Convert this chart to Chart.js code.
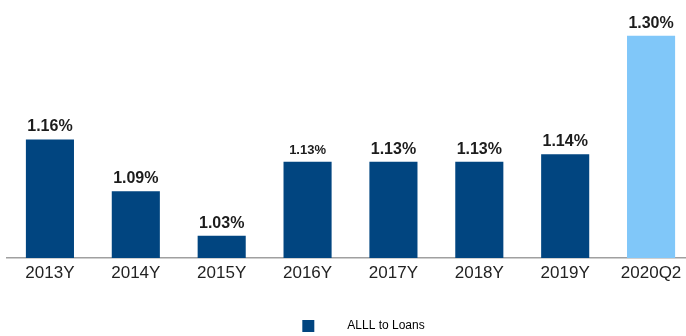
<!DOCTYPE html>
<html>
<head>
<meta charset="utf-8">
<script src="https://cdn.jsdelivr.net/npm/chart.js@4"></script>
<style>
  html, body { margin: 0; padding: 0; background: #fff; overflow: hidden; }
  #wrap { position: relative; width: 727px; height: 344px; }
</style>
</head>
<body>
<div id="wrap"><canvas id="c"></canvas></div>
<script>
// Allowance for loan losses as a share of total loans
const categories = ['2013Y', '2014Y', '2015Y', '2016Y', '2017Y', '2018Y', '2019Y', '2020Q2'];
const allllToLoans = [1.16, 1.09, 1.03, 1.13, 1.13, 1.13, 1.14, 1.30];
const seriesName = 'ALLL to Loans';
const latestPeriod = '2020Q2';

const NAVY = '#014580';
const SKY = '#80C7F9';
const LABEL_FONT = '"Liberation Sans", Arial, sans-serif';

const barColors = categories.map(c => (c === latestPeriod ? SKY : NAVY));

// Legend swatch: small navy square with extra room around it
function legendSwatch() {
  const cv = document.createElement('canvas');
  cv.width = 65; cv.height = 12;
  const g = cv.getContext('2d');
  g.fillStyle = NAVY;
  g.fillRect(26, 0, 12, 12);
  return cv;
}
const swatch = legendSwatch();

// Percentage labels above each bar
const valueLabels = {
  id: 'valueLabels',
  afterDatasetsDraw(chart) {
    const ctx = chart.ctx;
    const meta = chart.getDatasetMeta(0);
    const data = chart.data.datasets[0].data;
    ctx.save();
    ctx.fillStyle = '#1c1c1c';
    ctx.textAlign = 'center';
    ctx.textBaseline = 'alphabetic';
    meta.data.forEach((bar, i) => {
      const size = categories[i] === '2016Y' ? 13 : 16;
      ctx.font = 'bold ' + size + 'px ' + LABEL_FONT;
      ctx.fillText(data[i].toFixed(2) + '%', bar.x, bar.y - 8);
    });
    ctx.restore();
  }
};

new Chart(document.getElementById('c'), {
  type: 'bar',
  data: {
    labels: categories,
    datasets: [{
      label: seriesName,
      data: allllToLoans,
      backgroundColor: barColors,
      borderWidth: 0,
      categoryPercentage: 1,
      barPercentage: 0.56
    }]
  },
  options: {
    responsive: true,
    maintainAspectRatio: false,
    animation: false,
    layout: { padding: { left: 7, right: 33, top: 6, bottom: 2 } },
    plugins: {
      tooltip: { enabled: false },
      legend: {
        position: 'bottom',
        labels: {
          usePointStyle: true,
          pointStyle: swatch,
          pointStyleWidth: 65,
          boxHeight: 12,
          color: '#333',
          padding: 2,
          font: { family: LABEL_FONT, size: 12 },
          generateLabels: (chart) => [{
            text: seriesName,
            pointStyle: swatch,
            fillStyle: NAVY,
            strokeStyle: NAVY,
            lineWidth: 0,
            hidden: false,
            datasetIndex: 0
          }]
        }
      }
    },
    scales: {
      x: {
        grid: { display: false, drawTicks: false },
        border: { display: true, color: '#a0a0a0', width: 1.5 },
        ticks: {
          color: '#222',
          padding: 5.5,
          font: { family: LABEL_FONT, size: 17 }
        },
        // leave room between the category labels and the legend
        afterFit(scale) { scale.height += 28.5; }
      },
      y: {
        display: false,
        min: 1.0,
        max: 1.34
      }
    }
  },
  plugins: [valueLabels]
});
</script>
</body>
</html>
